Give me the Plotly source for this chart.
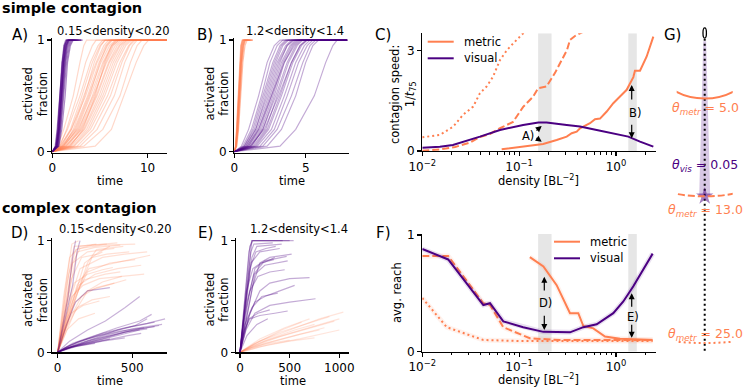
import plotly.graph_objects as go

W, H = 748, 388
FONT = "DejaVu Sans"
ORANGE = "#ff7f50"
PURPLE = "#4b0082"
BAND = "#e6e6e6"


def rgba(hex_color, alpha):
    h = hex_color.lstrip("#")
    r, g, b = (int(h[i:i + 2], 16) for i in (0, 2, 4))
    return f"rgba({r},{g},{b},{alpha})"


def X(px):
    return px / W


def Y(py):
    return 1 - py / H


# ── Simple contagion runs: time at which each activated-fraction level is hit ──
FRAC_LEVELS = [0, 0.05, 0.2, 0.5, 0.8, 0.95, 1.0, 1.0]

A_METRIC_T = [
    [0, 0.6, 1.2, 2.2, 2.9, 3.3, 3.6, 13], [0, 0.8, 1.5, 2.6, 3.5, 4.2, 4.6, 13],
    [0, 0.7, 1.6, 2.9, 4.0, 4.8, 5.3, 13], [0, 0.9, 1.9, 3.1, 4.2, 5.0, 5.6, 13],
    [0, 1.0, 2.0, 3.3, 4.6, 5.4, 5.9, 13], [0, 0.8, 2.0, 3.5, 4.7, 5.6, 6.1, 13],
    [0, 1.1, 2.3, 3.7, 4.9, 5.8, 6.3, 13], [0, 1.0, 2.4, 3.8, 5.1, 6.0, 6.6, 13],
    [0, 1.3, 2.5, 3.9, 5.0, 5.7, 6.2, 13], [0, 1.2, 2.6, 4.0, 5.3, 6.2, 6.8, 13],
    [0, 1.4, 2.8, 4.2, 5.4, 6.3, 7.0, 13], [0, 1.1, 2.7, 4.3, 5.7, 6.6, 7.2, 13],
    [0, 1.5, 2.9, 4.4, 5.6, 6.4, 7.0, 13], [0, 1.6, 3.0, 4.6, 5.9, 6.8, 7.4, 13],
    [0, 1.4, 3.1, 4.7, 6.0, 7.0, 7.6, 13], [0, 1.8, 3.3, 4.9, 6.2, 7.1, 7.8, 13],
    [0, 1.7, 3.4, 5.1, 6.4, 7.3, 7.9, 13], [0, 2.0, 3.6, 5.3, 6.6, 7.5, 8.1, 13],
    [0, 2.2, 3.8, 5.5, 6.8, 7.7, 8.3, 13], [0, 2.3, 4.0, 5.8, 7.1, 8.0, 8.5, 13],
    [0, 2.6, 4.3, 6.1, 7.3, 8.1, 8.7, 13], [0, 2.9, 4.7, 6.5, 7.6, 8.4, 8.9, 13],
    [0, 3.3, 5.3, 7.1, 8.2, 8.9, 9.4, 13], [0, 4.5, 6.2, 7.5, 8.8, 9.6, 10.1, 13],
    [0, 1.2, 2.2, 3.4, 4.4, 5.1, 5.5, 13], [0, 1.9, 3.2, 4.5, 5.5, 6.2, 6.7, 13],
]
A_VISUAL_T = [
    [0, 0.3, 0.5, 0.75, 1.0, 1.2, 1.4, 2.0], [0, 0.35, 0.55, 0.8, 1.05, 1.3, 1.5, 2.4],
    [0, 0.4, 0.6, 0.85, 1.1, 1.35, 1.6, 2.6], [0, 0.4, 0.65, 0.9, 1.15, 1.4, 1.65, 2.2],
    [0, 0.45, 0.7, 0.95, 1.2, 1.45, 1.7, 3.0], [0, 0.5, 0.7, 1.0, 1.25, 1.5, 1.75, 2.8],
    [0, 0.5, 0.75, 1.05, 1.3, 1.55, 1.8, 2.5], [0, 0.55, 0.8, 1.1, 1.35, 1.6, 1.9, 3.2],
    [0, 0.6, 0.85, 1.15, 1.4, 1.7, 2.0, 2.7], [0, 0.65, 0.9, 1.2, 1.5, 1.8, 2.1, 3.1],
    [0, 0.45, 0.65, 0.9, 1.1, 1.3, 1.55, 1.9], [0, 0.55, 0.75, 1.0, 1.2, 1.45, 1.7, 2.3],
    [0, 0.7, 1.0, 1.35, 1.6, 1.9, 2.2, 3.0], [0, 0.4, 0.6, 0.8, 1.0, 1.25, 1.5, 2.1],
]
B_METRIC_T = [
    [0, 0.08, 0.15, 0.25, 0.35, 0.45, 0.55, 1.0], [0, 0.1, 0.18, 0.3, 0.4, 0.5, 0.6, 1.2],
    [0, 0.1, 0.2, 0.32, 0.45, 0.55, 0.65, 0.9], [0, 0.12, 0.22, 0.35, 0.48, 0.6, 0.7, 1.3],
    [0, 0.12, 0.25, 0.38, 0.5, 0.62, 0.75, 1.1], [0, 0.15, 0.27, 0.4, 0.55, 0.68, 0.8, 1.25],
    [0, 0.09, 0.17, 0.28, 0.38, 0.48, 0.58, 0.95], [0, 0.14, 0.24, 0.36, 0.5, 0.64, 0.74, 1.15],
    [0, 0.18, 0.3, 0.45, 0.6, 0.75, 0.9, 1.3], [0, 0.11, 0.2, 0.31, 0.43, 0.55, 0.66, 1.05],
]
B_VISUAL_T = [
    [0, 0.5, 1.0, 1.7, 2.3, 2.8, 3.2, 7.9], [0, 0.6, 1.2, 1.9, 2.5, 3.0, 3.4, 7.9],
    [0, 0.7, 1.3, 2.0, 2.7, 3.2, 3.6, 7.9], [0, 0.7, 1.4, 2.1, 2.8, 3.3, 3.7, 7.9],
    [0, 0.8, 1.5, 2.2, 2.9, 3.4, 3.8, 7.9], [0, 0.8, 1.5, 2.3, 3.0, 3.6, 4.0, 7.9],
    [0, 0.9, 1.6, 2.4, 3.1, 3.7, 4.1, 7.9], [0, 1.0, 1.7, 2.5, 3.2, 3.7, 4.2, 7.9],
    [0, 1.0, 1.8, 2.6, 3.3, 3.9, 4.3, 7.9], [0, 1.1, 1.9, 2.7, 3.4, 4.0, 4.4, 7.9],
    [0, 1.2, 2.0, 2.8, 3.5, 4.1, 4.5, 7.9], [0, 1.2, 2.0, 2.9, 3.7, 4.3, 4.7, 7.9],
    [0, 1.3, 2.2, 3.0, 3.8, 4.4, 4.8, 7.9], [0, 1.4, 2.3, 3.2, 4.0, 4.6, 5.0, 7.9],
    [0, 1.5, 2.4, 3.3, 4.1, 4.7, 5.1, 7.9], [0, 1.6, 2.6, 3.5, 4.3, 4.9, 5.3, 7.9],
    [0, 1.8, 2.8, 3.7, 4.5, 5.1, 5.5, 7.9], [0, 2.0, 3.0, 4.0, 4.8, 5.3, 5.7, 7.9],
    [0, 2.3, 3.3, 4.3, 5.0, 5.5, 5.9, 7.9], [0, 3.2, 4.3, 5.6, 6.4, 6.9, 7.2, 7.9],
    [0, 0.9, 1.7, 2.6, 3.5, 4.2, 4.6, 7.9], [0, 1.1, 2.1, 3.1, 4.0, 4.6, 5.1, 7.9],
]

# ── Complex contagion runs: (time, activated fraction) ──
D_METRIC = [
    [(0, 0), (50, 0.55), (95, 0.97), (140, 1.0)],
    [(0, 0), (60, 0.6), (110, 0.95), (330, 0.97)],
    [(0, 0), (80, 0.55), (130, 0.9), (250, 0.94), (420, 0.96)],
    [(0, 0), (50, 0.4), (100, 0.8), (200, 0.9), (380, 0.93)],
    [(0, 0), (90, 0.5), (150, 0.75), (300, 0.85), (450, 0.88), (600, 0.9)],
    [(0, 0), (70, 0.35), (140, 0.6), (250, 0.7), (400, 0.75), (560, 0.78)],
    [(0, 0), (40, 0.25), (100, 0.5), (180, 0.65), (320, 0.7), (420, 0.72)],
    [(0, 0), (100, 0.45), (180, 0.8), (280, 0.9), (350, 0.95)],
    [(0, 0), (60, 0.3), (120, 0.45), (200, 0.55), (330, 0.6), (460, 0.65)],
    [(0, 0), (80, 0.3), (160, 0.5), (260, 0.58), (380, 0.62)],
    [(0, 0), (120, 0.5), (200, 0.72), (350, 0.8), (520, 0.83)],
    [(0, 0), (30, 0.15), (90, 0.35), (170, 0.42), (280, 0.46)],
    [(0, 0), (150, 0.6), (230, 0.85), (330, 0.88), (480, 0.9)],
    [(0, 0), (50, 0.2), (130, 0.4), (230, 0.47), (350, 0.5)],
    [(0, 0), (200, 0.8), (260, 0.92), (440, 0.95)],
    [(0, 0), (60, 0.2), (140, 0.3), (250, 0.35)],
    [(0, 0), (90, 0.65), (160, 0.85), (270, 0.88), (300, 0.9)],
    [(0, 0), (110, 0.35), (200, 0.55), (300, 0.63), (430, 0.68)],
    [(0, 0), (40, 0.5), (80, 0.85), (150, 0.95), (260, 0.97)],
    [(0, 0), (130, 0.6), (210, 0.75), (310, 0.78), (620, 0.87)],
    [(0, 0), (70, 0.45), (110, 0.62), (200, 0.7), (300, 0.74), (370, 0.76)],
    [(0, 0), (75, 0.7), (120, 0.92), (230, 0.96), (400, 0.98)],
    [(0, 0), (55, 0.3), (95, 0.5), (170, 0.6), (280, 0.66), (580, 0.7)],
    [(0, 0), (100, 0.8), (150, 0.93), (300, 0.96), (520, 0.97)],
]
D_VISUAL = [
    [(0, 0), (100, 0.05), (250, 0.1), (400, 0.15), (550, 0.2)],
    [(0, 0), (80, 0.06), (200, 0.12), (350, 0.18), (500, 0.23), (650, 0.27)],
    [(0, 0), (120, 0.05), (300, 0.1), (450, 0.13)],
    [(0, 0), (60, 0.05), (150, 0.1), (300, 0.17), (450, 0.22), (600, 0.26), (720, 0.3)],
    [(0, 0), (100, 0.08), (250, 0.15), (400, 0.22), (550, 0.28), (630, 0.34)],
    [(0, 0), (150, 0.07), (300, 0.12), (450, 0.18), (600, 0.21)],
    [(0, 0), (50, 0.04), (200, 0.08), (350, 0.12)],
    [(0, 0), (80, 0.1), (200, 0.2), (320, 0.28), (450, 0.4), (550, 0.5)],
    [(0, 0), (90, 0.05), (200, 0.09), (330, 0.14), (480, 0.19), (680, 0.24)],
    [(0, 0), (70, 0.5), (100, 0.85), (120, 1.0)],
    [(0, 0), (100, 0.6), (130, 0.9), (150, 1.0)],
    [(0, 0), (120, 0.07), (260, 0.13), (400, 0.2), (520, 0.24), (600, 0.3)],
    [(0, 0), (200, 0.1), (350, 0.16), (500, 0.21), (700, 0.25)],
    [(0, 0), (40, 0.03), (150, 0.06), (250, 0.08)],
    [(0, 0), (110, 0.06), (230, 0.11), (380, 0.16), (540, 0.21), (650, 0.23)],
    [(0, 0), (60, 0.25), (120, 0.45), (200, 0.55), (350, 0.58)],
    [(0, 0), (130, 0.09), (280, 0.15), (420, 0.19), (580, 0.22)],
    [(0, 0), (70, 0.04), (180, 0.07), (320, 0.11), (470, 0.15), (560, 0.17)],
]
E_VISUAL = [
    [(0, 0), (60, 0.6), (100, 0.95), (130, 1.0), (500, 1.0)],
    [(0, 0), (80, 0.7), (120, 1.0), (430, 1.0)],
    [(0, 0), (50, 0.4), (110, 0.8), (200, 0.9), (400, 0.93)],
    [(0, 0), (90, 0.5), (150, 0.75), (250, 0.82), (470, 0.86)],
    [(0, 0), (40, 0.3), (100, 0.55), (180, 0.68), (300, 0.72), (450, 0.74)],
    [(0, 0), (70, 0.45), (140, 0.7), (230, 0.8), (350, 0.85)],
    [(0, 0), (100, 0.35), (200, 0.55), (300, 0.62), (500, 0.66), (700, 0.67)],
    [(0, 0), (60, 0.2), (150, 0.35), (300, 0.42), (500, 0.45), (760, 0.48)],
    [(0, 0), (110, 0.9), (140, 0.97), (330, 0.98)],
    [(0, 0), (50, 0.25), (120, 0.4), (220, 0.5), (380, 0.53)],
    [(0, 0), (130, 0.6), (200, 0.8), (300, 0.85), (520, 0.88)],
    [(0, 0), (80, 0.3), (150, 0.45), (250, 0.5), (400, 0.55), (550, 0.6)],
    [(0, 0), (30, 0.15), (90, 0.3), (180, 0.35), (300, 0.38)],
    [(0, 0), (100, 0.75), (160, 0.9), (260, 0.93), (360, 0.95)],
    [(0, 0), (70, 0.15), (170, 0.25), (280, 0.3)],
    [(0, 0), (150, 0.7), (250, 0.78), (480, 0.82)],
    [(0, 0), (90, 0.9), (120, 1.0), (540, 1.0)],
    [(0, 0), (45, 0.2), (100, 0.3), (200, 0.33), (350, 0.35), (480, 0.37)],
    [(0, 0), (120, 0.85), (170, 0.95), (420, 0.97)],
    [(0, 0), (65, 0.55), (130, 0.75), (210, 0.8), (340, 0.83)],
]
E_METRIC = [
    [(0, 0), (200, 0.1), (500, 0.2), (800, 0.3), (1040, 0.36)],
    [(0, 0), (150, 0.06), (400, 0.14), (700, 0.22), (950, 0.28)],
    [(0, 0), (250, 0.08), (550, 0.15), (850, 0.22)],
    [(0, 0), (100, 0.04), (350, 0.1), (600, 0.16), (800, 0.2)],
    [(0, 0), (200, 0.12), (450, 0.22), (700, 0.3)],
    [(0, 0), (300, 0.07), (600, 0.12), (900, 0.18), (1000, 0.2)],
    [(0, 0), (150, 0.08), (400, 0.18), (650, 0.25), (900, 0.32)],
    [(0, 0), (200, 0.05), (500, 0.1), (750, 0.13)],
    [(0, 0), (100, 0.05), (300, 0.12), (550, 0.2), (750, 0.25)],
    [(0, 0), (250, 0.1), (500, 0.17), (800, 0.25), (1000, 0.3)],
    [(0, 0), (120, 0.04), (300, 0.08), (500, 0.11)],
    [(0, 0), (180, 0.09), (420, 0.2), (620, 0.27)],
]

# ── C: contagion speed vs density ──
C_METRIC_R1_D = [0.066, 0.102, 0.177, 0.244, 0.31, 0.349, 0.393, 0.425, 0.539, 0.607,
                 0.684, 0.802, 0.938, 1.10, 1.29, 1.51, 1.57, 1.77, 2.07, 2.43]
C_METRIC_R1_V = [0.05, 0.13, 0.21, 0.33, 0.43, 0.53, 0.58, 0.68, 0.83, 0.95,
                 0.97, 1.18, 1.43, 1.63, 1.83, 2.21, 2.40, 2.40, 2.82, 3.42]
C_METRIC_R2_D = [0.01, 0.0152, 0.0218, 0.0311, 0.0394, 0.05, 0.0634, 0.0865, 0.11, 0.139,
                 0.157, 0.192, 0.234, 0.284, 0.312, 0.335, 0.377, 0.425, 0.684]
C_METRIC_R2_V = [0.01, 0.05, 0.12, 0.25, 0.42, 0.51, 0.68, 0.87, 1.32, 1.62,
                 1.88, 1.93, 2.33, 2.78, 3.02, 3.32, 3.44, 3.52, 3.8]
C_METRIC_R3_D = [0.01, 0.0152, 0.0209, 0.0263, 0.0336, 0.0394, 0.0462, 0.0537, 0.0634,
                 0.075, 0.087, 0.11, 0.129]
C_METRIC_R3_V = [0.41, 0.48, 0.73, 1.08, 1.33, 1.73, 1.93, 2.22, 2.72, 3.02, 3.22, 3.52, 3.8]
C_VISUAL_D = [0.01, 0.0152, 0.0207, 0.0311, 0.0394, 0.0634, 0.110, 0.158, 0.192, 0.31,
              0.425, 0.632, 0.938, 1.34, 1.77, 2.43]
C_VISUAL_V = [0.10, 0.13, 0.18, 0.33, 0.43, 0.63, 0.78, 0.85, 0.85, 0.78,
              0.73, 0.63, 0.53, 0.43, 0.28, 0.13]

# ── F: average reach vs density ──
F_METRIC_R1_D = [0.129, 0.178, 0.244, 0.335, 0.408, 0.46, 0.583, 0.77, 1.1, 2.39]
F_METRIC_R1_V = [0.81, 0.73, 0.57, 0.33, 0.33, 0.22, 0.20, 0.13, 0.11, 0.10]
F_METRIC_R2_D = [0.01, 0.0185, 0.0427, 0.05, 0.0686, 0.129, 0.264, 0.68, 2.39]
F_METRIC_R2_V = [0.82, 0.82, 0.415, 0.40, 0.21, 0.115, 0.10, 0.10, 0.10]
F_METRIC_R3_D = [0.01, 0.0179, 0.0427, 0.1, 2.39]
F_METRIC_R3_V = [0.46, 0.21, 0.10, 0.092, 0.092]
F_VISUAL_D = [0.01, 0.0185, 0.0427, 0.05, 0.0686, 0.11, 0.178, 0.335, 0.46, 0.632,
              0.938, 1.19, 1.51, 2.39]
F_VISUAL_V = [0.88, 0.79, 0.40, 0.415, 0.26, 0.21, 0.17, 0.166, 0.21, 0.235,
              0.33, 0.43, 0.56, 0.84]

DENSITY_BINS = [(0.157, 0.216), (1.34, 1.64)]

# ── G: interaction ranges ──
METRIC_RADII = [5.0, 13.0, 25.0]
VISUAL_NEIGHBOR_DIST = 13.0
VISUAL_THRESHOLD = 0.05

fig = go.Figure()


def add_line(x, y, xa, ya, color, width=1.2, dash=None):
    fig.add_trace(go.Scatter(
        x=x, y=y, mode="lines", xaxis=xa, yaxis=ya, hoverinfo="skip", showlegend=False,
        line=dict(color=color, width=width, dash=dash),
    ))


def add_runs_levels(runs, color, alpha, xa, ya):
    for ts in runs:
        add_line(ts, FRAC_LEVELS, xa, ya, rgba(color, alpha))


def add_runs_points(runs, color, alpha, xa, ya):
    for run in runs:
        t, f = zip(*run)
        add_line(list(t), list(f), xa, ya, rgba(color, alpha))


def add_bands(xa, ya, ytop):
    for lo, hi in DENSITY_BINS:
        fig.add_trace(go.Scatter(
            x=[lo, lo, hi, hi], y=[0, ytop, ytop, 0], fill="toself", fillcolor=BAND,
            mode="lines", line=dict(width=0), xaxis=xa, yaxis=ya,
            hoverinfo="skip", showlegend=False,
        ))


DASH = "7px,3px"
DOT = "2px,3px"

# A / B
add_runs_levels(A_METRIC_T, ORANGE, 0.3, "x", "y")
add_runs_levels(A_VISUAL_T, PURPLE, 0.45, "x", "y")
add_runs_levels(B_METRIC_T, ORANGE, 0.45, "x2", "y2")
add_runs_levels(B_VISUAL_T, PURPLE, 0.33, "x2", "y2")

# C
add_bands("x3", "y3", 3.52)
for d, v, dash in [(C_METRIC_R3_D, C_METRIC_R3_V, DOT), (C_METRIC_R2_D, C_METRIC_R2_V, DASH),
                   (C_METRIC_R1_D, C_METRIC_R1_V, None)]:
    add_line(d, v, "x3", "y3", ORANGE, width=2, dash=dash)
add_line(C_VISUAL_D, C_VISUAL_V, "x3", "y3", PURPLE, width=2)

# D / E
add_runs_points(D_METRIC, ORANGE, 0.24, "x4", "y4")
add_runs_points(D_VISUAL, PURPLE, 0.3, "x4", "y4")
add_runs_points(E_METRIC, ORANGE, 0.2, "x5", "y5")
add_runs_points(E_VISUAL, PURPLE, 0.33, "x5", "y5")

# F
add_bands("x6", "y6", 1.01)
for d, v, dash in [(F_METRIC_R3_D, F_METRIC_R3_V, DOT), (F_METRIC_R2_D, F_METRIC_R2_V, DASH),
                   (F_METRIC_R1_D, F_METRIC_R1_V, None)]:
    add_line(d, v, "x6", "y6", rgba(ORANGE, 0.1), width=5)
    add_line(d, v, "x6", "y6", ORANGE, width=2, dash=dash)
add_line(F_VISUAL_D, F_VISUAL_V, "x6", "y6", rgba(PURPLE, 0.12), width=5)
add_line(F_VISUAL_D, F_VISUAL_V, "x6", "y6", PURPLE, width=2)

# G
fig.add_trace(go.Scatter(
    x=[-0.12, 0.12, 0.45, -0.45], y=[-0.3, -0.3, -VISUAL_NEIGHBOR_DIST, -VISUAL_NEIGHBOR_DIST],
    fill="toself", fillcolor=rgba(PURPLE, 0.22), mode="lines", line=dict(width=0),
    xaxis="x7", yaxis="y7", hoverinfo="skip", showlegend=False,
))
fig.add_trace(go.Scatter(
    x=[0, 0], y=[-0.1, -25.7], mode="lines", line=dict(color="black", width=2, dash="2px,3px"),
    xaxis="x7", yaxis="y7", hoverinfo="skip", showlegend=False,
))
fig.add_trace(go.Scatter(
    x=[0], y=[-VISUAL_NEIGHBOR_DIST], mode="markers",
    marker=dict(symbol="star", size=13, color=rgba(PURPLE, 0.5), line=dict(width=0)),
    xaxis="x7", yaxis="y7", hoverinfo="skip", showlegend=False,
))
for r, dash in zip(METRIC_RADII, ["solid", DASH, DOT]):
    fig.add_shape(type="circle", xref="x7", yref="y7", x0=-r, x1=r, y0=-r, y1=r,
                  line=dict(color=ORANGE, width=2, dash=dash))
fig.add_shape(type="circle", xref="x7", yref="y7", x0=-0.14, x1=0.14, y0=-0.05, y1=0.78,
              line=dict(color="black", width=1.3), fillcolor="white")


# ── Axes ──
def axis(dom_px, rng, tickvals, anchor, vertical=False, ticktext=None, log=False, minor=None):
    if vertical:
        dom = [Y(dom_px[1]), Y(dom_px[0])]
    else:
        dom = [X(dom_px[0]), X(dom_px[1])]
    d = dict(domain=dom, range=rng, anchor=anchor, showline=True, linecolor="black",
             linewidth=1.2, ticks="outside", ticklen=4, tickwidth=1.2, tickcolor="black",
             showgrid=False, zeroline=False, tickmode="array", tickvals=tickvals,
             automargin=False,
             tickfont=dict(size=12, color="black", family=FONT), fixedrange=True)
    if ticktext:
        d["ticktext"] = ticktext
    if log:
        d["type"] = "log"
    if minor:
        d["minor"] = minor
    return d


LOG_TICKS = [0.01, 0.1, 1]
LOG_TEXT = ["10<sup>−2</sup>", "10<sup>−1</sup>", "10<sup>0</sup>"]
LOG_MINOR = dict(tickvals=[m * 10.0 ** e for e in (-2, -1) for m in range(2, 10)] + [2],
                 ticks="outside", ticklen=2.5, tickwidth=1, tickcolor="black")

hidden = dict(visible=False, showgrid=False, zeroline=False, fixedrange=True, automargin=False)

fig.update_layout(
    width=W, height=H, autosize=False,
    margin=dict(l=0, r=0, t=0, b=0, pad=0),
    paper_bgcolor="white", plot_bgcolor="rgba(0,0,0,0)",
    font=dict(family=FONT, color="black", size=12),
    showlegend=False,
    xaxis=axis([52.3, 166.7], [0, 12], [0, 10], "y"),
    yaxis=axis([37.7, 152.7], [-0.009, 1.021], [0, 1], "x", vertical=True),
    xaxis2=axis([234.3, 349.3], [0, 8.05], [0, 5], "y2"),
    yaxis2=axis([37.7, 152.7], [-0.009, 1.021], [0, 1], "x2", vertical=True),
    xaxis3=axis([422.3, 655.7], [-2, 0.41], LOG_TICKS, "y3", ticktext=LOG_TEXT, log=True, minor=LOG_MINOR),
    yaxis3=axis([33.3, 151], [0, 3.52], [0, 3], "x3", vertical=True),
    xaxis4=axis([52.3, 166.7], [-36, 731], [0, 500], "y4"),
    yaxis4=axis([237.7, 352.3], [0, 1.027], [0, 1], "x4", vertical=True),
    xaxis5=axis([235.7, 349.3], [-43, 1100], [0, 500, 1000], "y5"),
    yaxis5=axis([237.7, 352.3], [0, 1.027], [0, 1], "x5", vertical=True),
    xaxis6=axis([422.3, 655.7], [-2, 0.41], LOG_TICKS, "y6", ticktext=LOG_TEXT, log=True, minor=LOG_MINOR),
    yaxis6=axis([234, 351.7], [0, 1.008], [0, 1], "x6", vertical=True),
    xaxis7=dict(hidden, domain=[X(676.7), X(732.7)], range=[-2.28, 2.28], anchor="y7"),
    yaxis7=dict(hidden, domain=[Y(360), Y(20)], range=[-26.39, 1.432], anchor="x7"),
)


def text(s, x, y, size=11.5, color="black", angle=0, xanchor="center"):
    fig.add_annotation(text=s, x=X(x), y=Y(y), xref="paper", yref="paper", showarrow=False,
                       font=dict(size=size, color=color, family=FONT), textangle=angle,
                       xanchor=xanchor, yanchor="middle")


def arrow(hx, hy, tx, ty):
    fig.add_annotation(x=X(hx), y=Y(hy), xref="paper", yref="paper", ax=tx - hx, ay=ty - hy,
                       axref="pixel", ayref="pixel", text="", showarrow=True, arrowhead=2,
                       arrowsize=1, arrowwidth=1.2, arrowcolor="black", standoff=0)


# row titles
text("<b>simple contagion</b>", 0, 8, size=14.5, xanchor="left")
text("<b>complex contagion</b>", 0, 207.5, size=14.5, xanchor="left")

# panel letters
for s, x, y in [("A)", 20, 35), ("B)", 205, 35), ("C)", 383, 35), ("D)", 19, 233),
                ("E)", 205, 233), ("F)", 383, 233), ("G)", 672, 35)]:
    text(s, x, y, size=15)

# panel subtitles
text("0.15<density<0.20", 113.5, 31, size=11.5)
text("1.2<density<1.4", 295, 31, size=11.5)
text("0.15<density<0.20", 115, 229, size=11.5)
text("1.2<density<1.4", 299, 229, size=11.5)

# axis titles
for x, y in [(35, 94), (216.5, 94), (35, 300), (216.5, 300)]:
    text("activated<br>fraction", x, y, angle=-90)
text("contagion speed:<br>1/<i>t</i><sub>75</sub>", 403, 95, angle=-90)
text("avg. reach", 397, 293, angle=-90)
for x, y in [(109.5, 180.5), (291.8, 180.5), (109.5, 381), (292.5, 381)]:
    text("time", x, y)
text("density [BL<sup>−2</sup>]", 538.5, 180.5)
text("density [BL<sup>−2</sup>]", 538.5, 379.5)

# legends (C and F)
for x0, y0 in [(427.7, 41.7), (554, 241.7)]:
    for dy, color, label in [(0, ORANGE, "metric"), (16.6, PURPLE, "visual")]:
        fig.add_shape(type="line", xref="paper", yref="paper", x0=X(x0), x1=X(x0 + 26),
                      y0=Y(y0 + dy), y1=Y(y0 + dy), line=dict(color=color, width=2))
        text(label, x0 + 34, y0 + dy, xanchor="left")

# arrows with run labels
text("A)", 527.5, 136, size=11.5)
arrow(541.7, 126, 535, 131.7)
arrow(541.7, 141.7, 535, 137)
text("B)", 634.5, 112.5, size=11.5)
arrow(631.7, 85, 631.7, 101)
arrow(631.7, 138.3, 631.7, 123.3)
text("D)", 545.8, 303.3, size=11.5)
arrow(544.3, 276.7, 544.3, 292)
arrow(544.3, 330, 544.3, 314.3)
text("E)", 633, 316.7, size=11.5)
arrow(631.7, 293.3, 631.7, 308.3)
arrow(631.7, 337.7, 631.7, 323.3)

# G labels
for r, y in zip(METRIC_RADII, [108, 210.7, 334.5]):
    text(f"<i>θ</i><sub><i>metr</i></sub> = {r:.1f}", 705.5, y, size=12.5, color=ORANGE)
text(f"<i>θ</i><sub><i>vis</i></sub> = {VISUAL_THRESHOLD:.2f}", 705, 165.7, size=12.5, color=PURPLE)

fig.write_html(
    "out.html",
    config={"displayModeBar": False, "staticPlot": True},
    post_script="document.body.style.margin='0';document.body.style.padding='0';",
)
